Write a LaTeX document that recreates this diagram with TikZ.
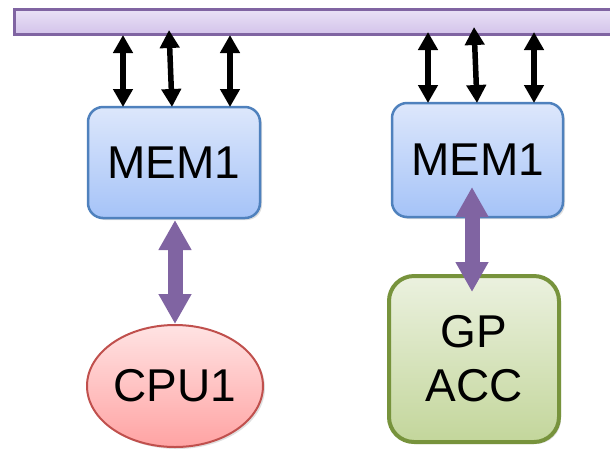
\documentclass[tikz,border=0pt]{standalone}
\usepackage{fontspec}
\setmainfont{Liberation Sans}
\usetikzlibrary{arrows.meta,shadows,shapes.geometric}
\definecolor{busfill1}{HTML}{E9E1F6}
\definecolor{busfill2}{HTML}{D3C3EA}
\definecolor{purp}{HTML}{8064A2}
\definecolor{memtop}{HTML}{DDE7FB}
\definecolor{membot}{HTML}{A5C3F8}
\definecolor{memline}{HTML}{4F81BD}
\definecolor{acctop}{HTML}{EBF1DF}
\definecolor{accbot}{HTML}{C3D69B}
\definecolor{accline}{HTML}{77933C}
\definecolor{cputop}{HTML}{FFE3E3}
\definecolor{cpubot}{HTML}{FFA3A3}
\definecolor{cpuline}{HTML}{C0504D}
\tikzset{
  shd/.style={drop shadow={opacity=0.25,shadow xshift=2pt,shadow yshift=-2pt}},
  membox/.style={draw=memline,line width=2.5pt,rounded corners=15pt,top color=memtop,bottom color=membot,shd,
    minimum width=172pt,font=\fontsize{46}{55}\selectfont,inner sep=0pt},
  accbox/.style={draw=accline,line width=4pt,rounded corners=25pt,top color=acctop,bottom color=accbot,shd,
    minimum width=170pt,minimum height=166pt,font=\fontsize{46}{55}\selectfont,align=center,inner sep=0pt},
  cpunode/.style={ellipse,draw=cpuline,line width=2pt,top color=cputop,bottom color=cpubot,shd,
    minimum width=176pt,minimum height=122pt,font=\fontsize{46}{55}\selectfont,inner sep=0pt},
  busbar/.style={draw=purp,line width=2.5pt,top color=busfill1,bottom color=busfill2,shd},
  blk/.style={line width=5.5pt,{Triangle[length=18pt,width=19pt]}-{Triangle[length=18pt,width=19pt]}},
  fat/.style={draw=purp,line width=15pt,{Triangle[length=30pt,width=31pt]}-{Triangle[length=30pt,width=31pt]},color=purp},
}
\begin{document}
\begin{tikzpicture}[x=1pt,y=-1pt]
\useasboundingbox (0,0) rectangle (610,451);
\node[busbar,minimum width=607pt,minimum height=25pt,inner sep=0pt,anchor=north west] (bus) at (13,8) {};
\node[membox,minimum height=111pt] (memL) at (174,162.5) {MEM1};
\node[membox,minimum height=114pt,minimum width=171pt] (memR) at (477.5,160) {MEM1};
\node[cpunode] (cpu) at (175,386) {CPU1};
\node[accbox] (acc) at (474,359) {GP\\[-1pt]ACC};
% black bus arrows
\coordinate (a1t) at (123,35); \coordinate (a1b) at (123,107);
\coordinate (a2t) at (169,30); \coordinate (a2b) at (172,107);
\coordinate (a3t) at (230,35); \coordinate (a3b) at (230,107);
\coordinate (b1t) at (428,32); \coordinate (b1b) at (428,103);
\coordinate (b2t) at (474,27); \coordinate (b2b) at (477,103);
\coordinate (b3t) at (534,32); \coordinate (b3b) at (534,103);
\draw[blk] (a1t) -- (a1b);
\draw[blk] (a2t) -- (a2b);
\draw[blk] (a3t) -- (a3b);
\draw[blk] (b1t) -- (b1b);
\draw[blk] (b2t) -- (b2b);
\draw[blk] (b3t) -- (b3b);
% purple links
\coordinate (lt) at (175,220);
\coordinate (rt) at (472,187);
\coordinate (rb) at (472,292);
\draw[fat] (lt) -- (cpu.north);
\draw[fat] (rt) -- (rb);
\end{tikzpicture}
\end{document}
